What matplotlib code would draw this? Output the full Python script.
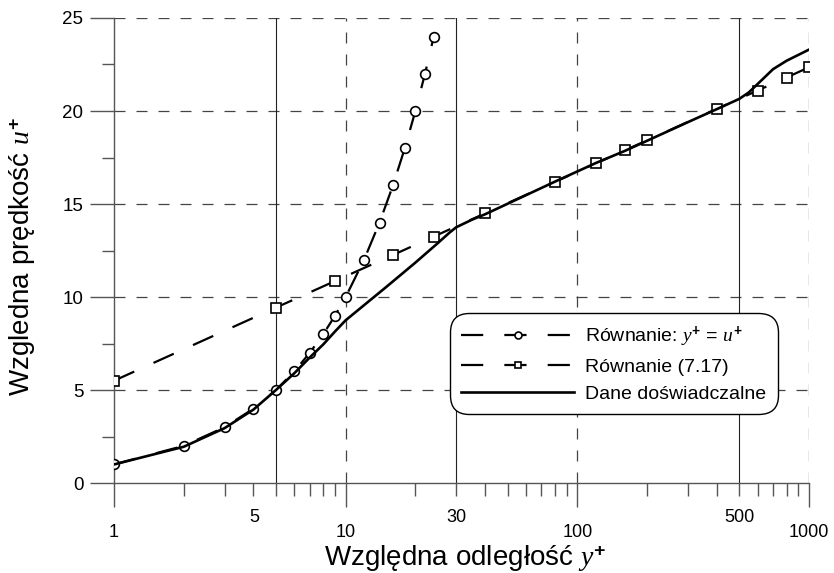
import matplotlib
matplotlib.use('Agg')
import matplotlib.pyplot as plt
import matplotlib.transforms as mtransforms

plt.rcParams['font.family'] = ['Liberation Sans', 'DejaVu Sans']
plt.rcParams['mathtext.fontset'] = 'custom'
plt.rcParams['mathtext.it'] = 'Liberation Serif:italic'
plt.rcParams['mathtext.rm'] = 'Liberation Sans'
plt.rcParams['mathtext.bf'] = 'Liberation Sans:bold'

############################################################
# Dane
############################################################

# Równanie y+ = u+
y_lin = [1, 2, 3, 4, 5, 6, 7, 8, 9, 10, 12, 14, 16, 18, 20, 22, 24]
u_lin = [1, 2, 3, 4, 5, 6, 7, 8, 9, 10, 12, 14, 16, 18, 20, 22, 24]

# Równanie (7.17)
y_log = [1, 5, 9, 16, 24, 40, 80, 120, 160, 200, 400, 600, 800, 1000]
u_log = [5.5, 9.43, 10.86, 12.26, 13.25, 14.5, 16.19, 17.18, 17.88,
         18.42, 20.11, 21.1, 21.8, 22.35]

# Dane doświadczalne
y_exp = [1, 2, 3, 4, 5, 6, 7, 8, 9, 10, 15, 20, 25, 28, 30, 35, 40,
         80, 120, 160, 200, 300, 400, 500, 550, 600, 700, 800, 1000]
u_exp = [1.0, 1.95, 2.95, 3.95, 5.0, 5.9, 6.75, 7.45, 8.15, 8.75, 10.55,
         11.85, 12.9, 13.45, 13.75, 14.15, 14.45, 16.2, 17.2, 17.85,
         18.4, 19.4, 20.1, 20.65, 21.0, 21.45, 22.25, 22.7, 23.3]

xt_dol = [1, 10, 100, 1000]
xt_gora = [5, 30, 500]
x_minor = [2, 3, 4, 5, 6, 7, 8, 9, 20, 30, 40, 50, 60, 70, 80, 90,
           200, 300, 400, 500, 600, 700, 800, 900]
yt = [0, 5, 10, 15, 20, 25]
yt_minor = [2.5, 7.5, 12.5, 17.5, 22.5]

############################################################
# Wykres
############################################################

fig = plt.figure(figsize=(8.34, 5.73), dpi=100)
ax = fig.add_axes([0.1367, 0.157, 0.8333, 0.8116])

ax.set_xscale('log')
ax.set_xlim(1, 1000)
ax.set_ylim(0, 25)

# siatka
kreska = (0, (8.8, 8.8))
for y in yt[1:]:
    ax.axhline(y, color='#444444', lw=0.9, ls=kreska, zorder=1)
for x in xt_dol[1:]:
    ax.axvline(x, color='#444444', lw=0.9, ls=kreska, zorder=1)
for x in xt_gora:
    ax.axvline(x, color='#222222', lw=0.8, zorder=1)

ax.plot(y_lin, u_lin, color='black', lw=1.6, ls=(0, (10, 9.5)),
        marker='o', ms=7, mfc='white', mec='black', mew=1.2,
        label='Równanie: $\\mathit{y}^{\\mathbf{+}}$ = $\\mathit{u}^{\\mathbf{+}}$',
        zorder=3)
ax.plot(y_log, u_log, color='black', lw=1.6, ls=(0, (10, 9.5)),
        marker='s', ms=7, mfc='white', mec='black', mew=1.2,
        label='Równanie (7.17)', zorder=3)
ax.plot(y_exp, u_exp, color='black', lw=1.9,
        label='Dane doświadczalne', zorder=4)

for s in ['top', 'right']:
    ax.spines[s].set_visible(False)
for s in ['left', 'bottom']:
    ax.spines[s].set_color('#555555')
    ax.spines[s].set_linewidth(1.0)

ax.set_xticks(xt_dol)
ax.set_xticklabels([str(v) for v in xt_dol])
ax.set_xticks(x_minor, minor=True)
ax.set_xticklabels([str(v) if v in xt_gora else '' for v in x_minor],
                   minor=True)
ax.set_yticks(yt)
ax.set_yticks(yt_minor, minor=True)

ax.tick_params(axis='x', which='major', length=17, width=1.0,
               color='#555555', direction='out', pad=12.5, labelsize=13)
ax.tick_params(axis='x', which='minor', length=9, width=1.0,
               color='#555555', direction='out', pad=9.5, labelsize=13)
ax.tick_params(axis='y', which='major', length=17, width=1.0,
               color='#555555', direction='out', pad=5, labelsize=13.5)
ax.tick_params(axis='y', which='minor', length=9, width=1.0,
               color='#555555', direction='out')

ax.set_xlabel('Względna odległość $\\mathit{y}^{\\mathbf{+}}$', fontsize=20)
ax.xaxis.label.set_va('baseline')
ax.xaxis.set_label_coords(0.505, -0.1785)
ax.set_ylabel('Wzgledna prędkość $\\mathit{u}^{\\mathbf{+}}$', fontsize=20)
ax.yaxis.label.set_va('center')
ax.yaxis.set_label_coords(-0.131, 0.488)

leg = ax.legend(loc='lower left', bbox_to_anchor=(0.483, 0.148),
                borderaxespad=0, fontsize=14, handlelength=5.8,
                handletextpad=0.55, labelspacing=0.45, borderpad=0.6,
                numpoints=1, fancybox=True, framealpha=1,
                edgecolor='black')
leg.get_frame().set_linewidth(1.0)
leg.get_frame().set_boxstyle('round', pad=0, rounding_size=1.0)
for h in leg.legend_handles[:2]:
    h.set_markersize(5)

# etykieta "5" przesunięta w lewo jak w oryginale
fig.canvas.draw()
lab = ax.xaxis.get_minor_ticks()[3].label1
lab.set_transform(lab.get_transform() +
                  mtransforms.ScaledTranslation(-0.22, 0, fig.dpi_scale_trans))

fig.savefig('out.png', dpi=100)
